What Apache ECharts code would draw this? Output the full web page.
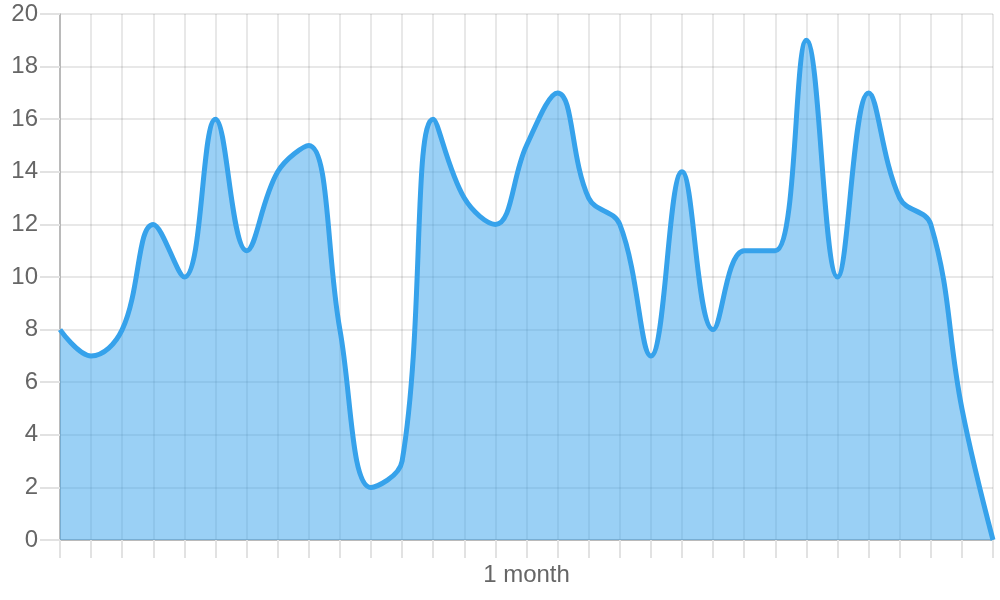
<!DOCTYPE html>
<html>
<head>
<meta charset="utf-8">
<script src="https://cdn.jsdelivr.net/npm/echarts@6/dist/echarts.min.js"></script>
<style>html,body{margin:0;padding:0;background:#fff}#c{width:1000px;height:600px}</style>
</head>
<body>
<div id="c"></div>
<script>
const categories = Array.from({length: 31}, (_, i) => 'Day ' + (i + 1));
const values = [8, 7, 8, 12, 10, 16, 11, 14, 15, 8, 2, 3, 16, 13, 12, 15, 17, 13, 12, 7, 14, 8, 11, 11, 19, 10, 17, 13, 12, 5, 0];
const xAxisName = '1 month';

const chart = echarts.init(document.getElementById('c'));
chart.setOption({
  animation: false,
  textStyle: { fontFamily: 'Liberation Sans, Arial, sans-serif' },
  grid: { left: 60, right: 7, top: 14, bottom: 60 },
  xAxis: {
    type: 'category',
    data: categories,
    boundaryGap: false,
    name: xAxisName,
    nameLocation: 'middle',
    nameGap: 23,
    nameTextStyle: { fontSize: 24, color: '#666' },
    axisLine: { show: true, lineStyle: { color: '#aaa', width: 1.5 } },
    axisTick: { show: true, length: 18, interval: 0, lineStyle: { color: '#e2e2e2', width: 2 } },
    axisLabel: { show: false },
    splitLine: { show: true, interval: 0, lineStyle: { color: 'rgba(0,0,0,0.12)', width: 1.5 } }
  },
  yAxis: {
    type: 'value',
    min: 0, max: 20, interval: 2,
    axisLine: { show: true, lineStyle: { color: '#aaa', width: 1.5 } },
    axisTick: { show: true, length: 20, lineStyle: { color: '#e2e2e2', width: 2 } },
    axisLabel: { fontSize: 24, color: '#666', margin: 22 },
    splitLine: { show: true, lineStyle: { color: 'rgba(0,0,0,0.12)', width: 1.5 } }
  },
  series: [{
    type: 'line',
    data: values,
    smooth: 0.4,
    symbol: 'none',
    lineStyle: { color: '#36a2eb', width: 5 },
    itemStyle: { color: '#36a2eb' },
    areaStyle: { color: 'rgba(54,162,235,0.5)', opacity: 1 }
  }]
});
</script>
</body>
</html>
